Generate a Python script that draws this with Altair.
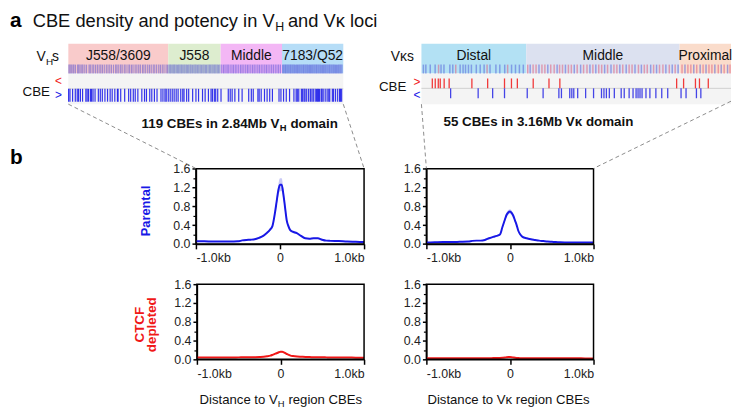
import altair as alt
import pandas as pd

W, H = 732, 403
FONT = "Liberation Sans"


def P(v):
    return v - 8


# ---------------- data: loci ----------------
VH_LEN = 2840   # kb
VK_LEN = 3160   # kb

vh_region_names = ["J558/3609", "J558", "Middle", "7183/Q52"]
vh_region_start = [0, 1032, 1573, 2207]
vh_region_end = [1032, 1573, 2207, 2840]
vh_region_colors = ["#F9CBCB", "#DDEDCF", "#F3B7F5", "#B6DDF7"]

vk_region_names = ["Distal", "Middle", "Proximal"]
vk_region_start = [0, 1070, 2635]
vk_region_end = [1070, 2635, 3160]
vk_region_colors = ["#B3E1F4", "#DCE1F0", "#FADCCB"]

vh_genes = [6, 18, 31, 47, 58, 74, 96, 108, 122, 139, 151, 170, 188, 214, 227, 246, 262, 281,
            300, 318, 335, 352, 371, 392, 410, 428, 446, 467, 489, 503, 521, 540, 556, 578, 595,
            617, 633, 652, 668, 690, 708, 727, 744, 766, 781, 799, 820, 838, 856, 877, 893, 912,
            934, 951, 970, 988, 1010, 1025,
            1040, 1052, 1063, 1078, 1090, 1101, 1115, 1128, 1140, 1153, 1166, 1177, 1192, 1204,
            1218, 1230, 1243, 1257, 1268, 1282, 1296, 1309, 1321, 1335, 1348, 1362, 1375, 1389,
            1402, 1416, 1428, 1443, 1457, 1470, 1484, 1497, 1511, 1524, 1538, 1551, 1565,
            1585, 1603, 1619, 1638, 1652, 1671, 1690, 1706, 1724, 1741, 1760, 1779, 1795, 1813,
            1832, 1850, 1866, 1885, 1903, 1920, 1938, 1957, 1974, 1992, 2010, 2029, 2046, 2063,
            2082, 2100, 2118, 2137, 2155, 2172, 2190,
            2213, 2224, 2236, 2245, 2257, 2268, 2279, 2291, 2300, 2312, 2323, 2335, 2346, 2358,
            2367, 2379, 2390, 2402, 2413, 2425, 2434, 2446, 2457, 2469, 2480, 2492, 2501, 2513,
            2524, 2536, 2547, 2559, 2568, 2580, 2591, 2603, 2614, 2626, 2635, 2647, 2658, 2670,
            2681, 2693, 2702, 2714, 2725, 2737, 2748, 2760, 2769, 2781, 2792, 2804, 2815, 2827]

vk_gene_pos = [20, 45, 90, 140, 175, 200, 230, 290, 320, 350, 395, 425, 450, 480, 510, 560, 600,
               640, 670, 700, 760, 800, 850, 880, 920, 960, 1000, 1040,
               1085, 1110, 1140, 1170, 1200, 1230, 1260, 1290, 1320, 1355, 1385, 1410, 1440, 1470,
               1500, 1530, 1560, 1590, 1625, 1655, 1690, 1720, 1750, 1780, 1810, 1840, 1870, 1900,
               1935, 1965, 1995, 2025, 2055, 2090, 2120, 2150, 2180, 2215, 2245, 2275, 2305, 2340,
               2370, 2400, 2430, 2465, 2495, 2530, 2560, 2590, 2620,
               2660, 2690, 2720, 2750, 2780, 2810, 2845, 2875, 2905, 2935, 2965, 2995, 3030, 3060,
               3090, 3125, 3150]
vk_gene_strand = [-1, -1, -1, -1, 1, -1, -1, -1, -1, 1, -1, -1, -1, -1, -1, -1, -1,
                  -1, 1, -1, -1, -1, -1, 1, -1, -1, -1, -1,
                  1, -1, 1, 1, -1, 1, 1, -1, 1, 1, -1, 1, 1, -1,
                  1, 1, -1, 1, -1, 1, 1, -1, 1, -1, 1, 1, -1, 1,
                  -1, 1, 1, -1, 1, -1, 1, 1, -1, 1, -1, 1, 1, -1,
                  1, -1, 1, 1, -1, 1, -1, 1, -1,
                  1, -1, 1, 1, -1, 1, -1, 1, -1, 1, 1, -1, 1, -1,
                  1, -1, 1]

vh_cbe = [3, 17, 44, 72, 92, 106, 125, 147, 181, 194, 208, 228, 240, 255, 276, 310, 330, 351, 378,
          405, 432, 453, 480, 507, 514, 541, 582, 623, 644, 671, 691, 718, 759, 787, 807, 841, 862,
          889, 916, 957, 977,
          998, 1011, 1032, 1052, 1073, 1093, 1114, 1134, 1161, 1182, 1195, 1222, 1243, 1284, 1318,
          1345, 1386, 1413, 1447, 1474, 1488, 1508, 1522, 1543, 1577, 1652, 1672, 1692, 1720, 1760,
          1795, 1863, 1890, 1910, 1958,
          1971, 1992, 2026, 2053, 2080, 2108, 2176, 2196, 2223, 2251, 2285, 2330, 2353, 2365, 2380,
          2407, 2420, 2435, 2445, 2462, 2482, 2500, 2516, 2530, 2550, 2564, 2575, 2584, 2595, 2612,
          2620, 2632, 2653, 2673, 2690, 2700, 2727, 2740, 2760, 2782, 2802, 2810, 2823]

vk_cbe_fwd = [111, 141, 172, 192, 232, 283, 515, 676, 848, 919, 979, 1141, 1302, 1413,
              2605, 2676, 2797, 2838, 2928]
vk_cbe_rev = [298, 579, 727, 848, 1080, 1242, 1403, 1429, 1514, 1535, 1555, 1595, 1676, 1757,
              1838, 1863, 1888, 1918, 1969, 2039, 2070, 2120, 2160, 2191, 2211, 2231, 2252, 2292,
              2332, 2393, 2453, 2514, 2650, 2701, 2807, 2852]

# ---------------- data: aggregate profiles ----------------
dist_bp = [-1000, -900, -800, -700, -600, -500, -450, -400, -350, -300, -250, -200, -160, -120,
           -90, -60, -40, -20, 0, 20, 40, 60, 80, 100, 120, 150, 200, 250, 300, 350, 400, 450,
           500, 550, 600, 700, 800, 900, 1000]

parental_vh = [0.055, 0.055, 0.05, 0.05, 0.05, 0.055, 0.075, 0.085, 0.09, 0.10, 0.13, 0.17, 0.23,
               0.30, 0.38, 0.66, 0.90, 1.14, 1.26, 1.26, 1.06, 0.78, 0.50, 0.38, 0.30, 0.26, 0.23,
               0.17, 0.12, 0.11, 0.12, 0.12, 0.09, 0.07, 0.065, 0.06, 0.05, 0.045, 0.04]
parental_vh_se = [0.01, 0.01, 0.01, 0.01, 0.01, 0.01, 0.01, 0.01, 0.01, 0.012, 0.015, 0.02, 0.025,
                  0.03, 0.04, 0.06, 0.09, 0.12, 0.14, 0.14, 0.11, 0.07, 0.04, 0.03, 0.025, 0.02,
                  0.02, 0.015, 0.012, 0.012, 0.012, 0.012, 0.01, 0.01, 0.01, 0.01, 0.01, 0.01, 0.01]

parental_vk = [0.03, 0.035, 0.04, 0.04, 0.045, 0.05, 0.065, 0.07, 0.07, 0.085, 0.12, 0.15, 0.17,
               0.20, 0.36, 0.52, 0.62, 0.67, 0.69, 0.66, 0.60, 0.50, 0.40, 0.28, 0.21, 0.15, 0.12,
               0.10, 0.085, 0.07, 0.06, 0.05, 0.045, 0.04, 0.035, 0.03, 0.03, 0.03, 0.03]
parental_vk_se = [0.008, 0.008, 0.008, 0.008, 0.008, 0.008, 0.01, 0.01, 0.01, 0.01, 0.012, 0.015,
                  0.015, 0.02, 0.03, 0.04, 0.05, 0.05, 0.05, 0.05, 0.04, 0.035, 0.03, 0.02, 0.015,
                  0.012, 0.01, 0.01, 0.01, 0.008, 0.008, 0.008, 0.008, 0.008, 0.008, 0.008, 0.008,
                  0.008, 0.008]

ctcf_vh = [0.04, 0.04, 0.04, 0.04, 0.04, 0.042, 0.043, 0.045, 0.045, 0.047, 0.05, 0.055, 0.065,
           0.08, 0.10, 0.12, 0.135, 0.15, 0.16, 0.16, 0.15, 0.13, 0.11, 0.095, 0.08, 0.07, 0.06,
           0.055, 0.05, 0.048, 0.045, 0.045, 0.045, 0.042, 0.04, 0.04, 0.038, 0.036, 0.035]
ctcf_vh_se = [0.006, 0.006, 0.006, 0.006, 0.006, 0.006, 0.006, 0.006, 0.006, 0.006, 0.007, 0.007,
              0.008, 0.01, 0.012, 0.014, 0.016, 0.018, 0.02, 0.02, 0.018, 0.015, 0.012, 0.01,
              0.008, 0.007, 0.007, 0.006, 0.006, 0.006, 0.006, 0.006, 0.006, 0.006, 0.006, 0.006,
              0.006, 0.006, 0.006]

ctcf_vk = [0.025, 0.025, 0.022, 0.022, 0.022, 0.022, 0.022, 0.025, 0.025, 0.025, 0.025, 0.027,
           0.028, 0.03, 0.033, 0.038, 0.045, 0.05, 0.05, 0.046, 0.04, 0.034, 0.03, 0.027, 0.025,
           0.024, 0.022, 0.022, 0.022, 0.022, 0.022, 0.022, 0.022, 0.022, 0.022, 0.022, 0.022,
           0.02, 0.02]
ctcf_vk_se = [0.005, 0.005, 0.005, 0.005, 0.005, 0.005, 0.005, 0.005, 0.005, 0.005, 0.005, 0.005,
              0.005, 0.006, 0.006, 0.007, 0.008, 0.009, 0.009, 0.008, 0.007, 0.006, 0.006, 0.005,
              0.005, 0.005, 0.005, 0.005, 0.005, 0.005, 0.005, 0.005, 0.005, 0.005, 0.005, 0.005,
              0.005, 0.005, 0.005]

y_major = [0, 0.4, 0.8, 1.2, 1.6]
y_minor = [0.2, 0.6, 1.0, 1.4]
x_ticks = [-1000, 0, 1000]

BLUE = "#1818E6"
RED = "#F01818"

layers = []


def one():
    return alt.Data(values=[{}])


def text(s, x, y, size, color="#111111", bold=False, align="left", angle=None):
    kw = dict(text=s, font=FONT, fontSize=size, color=color, align=align,
              baseline="alphabetic")
    if bold:
        kw["fontWeight"] = "bold"
    if angle is not None:
        kw["angle"] = angle
    return alt.Chart(one()).mark_text(**kw).encode(x=alt.value(P(x)), y=alt.value(P(y)))


def dash(x1, y1, x2, y2):
    return alt.Chart(one()).mark_rule(color="#8C8C8C", strokeDash=[4, 3], strokeWidth=1).encode(
        x=alt.value(P(x1)), y=alt.value(P(y1)), x2=alt.value(P(x2)), y2=alt.value(P(y2)))


def locus(names, starts, ends, colors, length, left, right, label_base):
    sc = alt.Scale(domain=[0, length], range=[P(left), P(right)], nice=False, zero=False)
    reg = pd.DataFrame({"name": names, "start": starts, "end": ends, "fill": colors})
    out = []
    out.append(alt.Chart(reg).mark_rect().encode(
        x=alt.X("start:Q", scale=sc, axis=None), x2="end:Q",
        y=alt.value(P(42)), y2=alt.value(P(72)),
        color=alt.Color("fill:N", scale=None)))
    out.append(alt.Chart(reg).transform_calculate(mid="(datum.start + datum.end) / 2").mark_text(
        font=FONT, fontSize=14, color="#111111", baseline="alphabetic").encode(
        x=alt.X("mid:Q", scale=sc, axis=None), y=alt.value(P(label_base)), text="name:N"))
    track = pd.DataFrame({"start": [0], "end": [length]})
    out.append(alt.Chart(track).mark_rect(color="#F4F4F4").encode(
        x=alt.X("start:Q", scale=sc, axis=None), x2="end:Q",
        y=alt.value(P(72)), y2=alt.value(P(103))))
    return sc, out


# ---- VH locus ----
vh_sc, vh_layers = locus(vh_region_names, vh_region_start, vh_region_end, vh_region_colors,
                         VH_LEN, 69, 347, 58.5)
layers += vh_layers
layers.append(alt.Chart(pd.DataFrame({"pos": vh_genes})).mark_rule(
    color="#3A3AD0", opacity=0.45, strokeWidth=1.2).encode(
    x=alt.X("pos:Q", scale=vh_sc, axis=None), y=alt.value(P(63)), y2=alt.value(P(72))))
layers.append(alt.Chart(pd.DataFrame({"start": [0], "end": [VH_LEN]})).mark_rule(
    color="#D4D4D4", strokeWidth=1).encode(
    x=alt.X("start:Q", scale=vh_sc, axis=None), x2="end:Q", y=alt.value(P(87.5))))
vh_cbe_y = alt.Scale(domain=[-1, 1], range=[P(100.5), P(74.5)], nice=False, zero=False)
layers.append(alt.Chart(pd.DataFrame({"pos": vh_cbe, "strand": [-1] * len(vh_cbe)}))
              .transform_calculate(base="0").mark_rule(color="#1E1EEA", opacity=0.9, strokeWidth=1.2)
              .encode(x=alt.X("pos:Q", scale=vh_sc, axis=None),
                      y=alt.Y("base:Q", scale=vh_cbe_y, axis=None), y2="strand:Q"))

# ---- Vk locus ----
vk_sc, vk_layers = locus(vk_region_names, vk_region_start, vk_region_end, vk_region_colors,
                         VK_LEN, 426, 739, 58.3)
layers += vk_layers
vk_gene_df = pd.DataFrame({"pos": vk_gene_pos,
                           "c": ["#E0607E" if s > 0 else "#5565D8" for s in vk_gene_strand]})
layers.append(alt.Chart(vk_gene_df).mark_rule(opacity=0.55, strokeWidth=1.5).encode(
    x=alt.X("pos:Q", scale=vk_sc, axis=None), y=alt.value(P(63)), y2=alt.value(P(72)),
    color=alt.Color("c:N", scale=None)))
layers.append(alt.Chart(pd.DataFrame({"start": [0], "end": [VK_LEN]})).mark_rule(
    color="#CFCFCF", strokeWidth=1).encode(
    x=alt.X("start:Q", scale=vk_sc, axis=None), x2="end:Q", y=alt.value(P(87))))
vk_cbe_df = pd.DataFrame({
    "pos": vk_cbe_fwd + vk_cbe_rev,
    "strand": [1] * len(vk_cbe_fwd) + [-1] * len(vk_cbe_rev),
    "c": [RED] * len(vk_cbe_fwd) + ["#2424E4"] * len(vk_cbe_rev)})
vk_cbe_y = alt.Scale(domain=[-1, 1], range=[P(97), P(77)], nice=False, zero=False)
layers.append(alt.Chart(vk_cbe_df).transform_calculate(base="0").mark_rule(
    opacity=0.85, strokeWidth=1.3).encode(
    x=alt.X("pos:Q", scale=vk_sc, axis=None),
    y=alt.Y("base:Q", scale=vk_cbe_y, axis=None), y2="strand:Q",
    color=alt.Color("c:N", scale=None)))


# ---------------- profile panels ----------------
def panel(vals, se, line_color, band_color, left, right, top, bottom):
    df = pd.DataFrame({"pos": dist_bp, "val": vals, "se": se})
    xsc = alt.Scale(domain=[-1000, 1000], range=[P(left), P(right)], nice=False, zero=False)
    ysc = alt.Scale(domain=[0, 1.6], range=[P(bottom), P(top)], nice=False, zero=False)
    common = dict(grid=False, title=None, domainColor="black", domainWidth=1.5,
                  tickColor="black", tickWidth=1.5, labelFont=FONT, labelFontSize=12.5,
                  labelColor="#222222")
    band = alt.Chart(df).transform_calculate(
        lo="max(0, datum.val - datum.se)", hi="datum.val + datum.se").mark_area(
        color=band_color, interpolate="monotone").encode(
        x=alt.X("pos:Q", scale=xsc, axis=None),
        y=alt.Y("lo:Q", scale=ysc, axis=None), y2="hi:Q")
    line = alt.Chart(df).mark_line(color=line_color, strokeWidth=2, interpolate="monotone").encode(
        x=alt.X("pos:Q", scale=xsc, axis=alt.Axis(
            orient="bottom", offset=P(bottom) - H, values=x_ticks, tickSize=5, labelPadding=3,
            labelFlush=True, labelOverlap=False,
            labelExpr="datum.value == 0 ? '0' : (datum.value < 0 ? '-1.0kb' : '1.0kb')",
            **common)),
        y=alt.Y("val:Q", scale=ysc, axis=alt.Axis(
            orient="left", offset=-P(left), values=y_major, format=".1f", tickSize=4,
            labelPadding=2, labelFlush=False, labelOverlap=False, **common)))
    frame = alt.Chart(pd.DataFrame({"x0": [-1000], "x1": [1000], "y0": [0], "y1": [1.6]})).mark_rect(
        filled=False, color="black", strokeWidth=1.5).encode(
        x=alt.X("x0:Q", scale=xsc, axis=None), x2="x1:Q",
        y=alt.Y("y0:Q", scale=ysc, axis=alt.Axis(
            orient="left", offset=-P(left), values=y_minor, tickSize=3, labels=False,
            domain=False, grid=False, title=None, tickColor="black", tickWidth=1.2)),
        y2="y1:Q")
    return [band, line, frame]


layers += panel(parental_vh, parental_vh_se, BLUE, "#C9C9F6", 198, 368, 168.3, 244.3)
layers += panel(parental_vk, parental_vk_se, BLUE, "#C9C9F6", 431, 600, 168.3, 244.3)
layers += panel(ctcf_vh, ctcf_vh_se, RED, "#F8C4C4", 199, 368, 285, 361)
layers += panel(ctcf_vk, ctcf_vk_se, RED, "#F8C4C4", 431, 600, 285, 361)

# ---------------- dashed zoom lines ----------------
layers += [dash(69, 103, 198, 168), dash(347, 103, 368, 168),
           dash(426, 103, 431, 168), dash(739, 100, 600, 168)]

# ---------------- texts ----------------
layers += [
    text("a", 10, 25, 21, color="#000000", bold=True),
    text("CBE density and potency in V", 33, 25, 18.5),
    text("H", 278.2, 29, 12.5),
    text("and Vκ loci", 291, 25, 18.5),
    text("V", 36.7, 59.3, 14),
    text("H", 46.3, 63, 10),
    text("s", 52.5, 59.3, 14),
    text("CBE", 22.7, 95, 13.5),
    text("<", 55.5, 84, 12, color=RED),
    text(">", 55.5, 98, 12, color=BLUE),
    text("Vκs", 395, 59.3, 14),
    text("CBE", 383, 90, 13.5),
    text(">", 418, 84.5, 12, color=RED),
    text("<", 418, 98, 12, color=BLUE),
    text("119 CBEs in 2.84Mb V", 143, 127.3, 13.5, bold=True),
    text("H", 282.8, 130, 9.5, bold=True),
    text("domain", 293.5, 127.3, 13.5, bold=True),
    text("55 CBEs in 3.16Mb Vκ domain", 448.3, 125.5, 13.5, bold=True),
    text("b", 10, 163, 21, color="#000000", bold=True),
    text("Parental", 151.7, 211, 13, color=BLUE, bold=True, align="center", angle=270),
    text("CTCF", 145, 326, 13.5, color=RED, bold=True, align="center", angle=270),
    text("depleted", 157.7, 326, 13.5, color=RED, bold=True, align="center", angle=270),
    text("Distance to V", 201.7, 406.5, 13.3),
    text("H", 280.8, 409.5, 9.5),
    text("region CBEs", 291.5, 406.5, 13.3),
    text("Distance to Vκ region CBEs", 514, 406.5, 13.3, align="center"),
]

chart = alt.layer(*layers).resolve_scale(
    x="independent", y="independent", color="independent"
).properties(
    width=W, height=H, autosize=alt.AutoSizeParams(type="none"), padding=0
).configure_view(stroke=None)

chart.save("out.html", embed_options={"renderer": "svg", "actions": False})
